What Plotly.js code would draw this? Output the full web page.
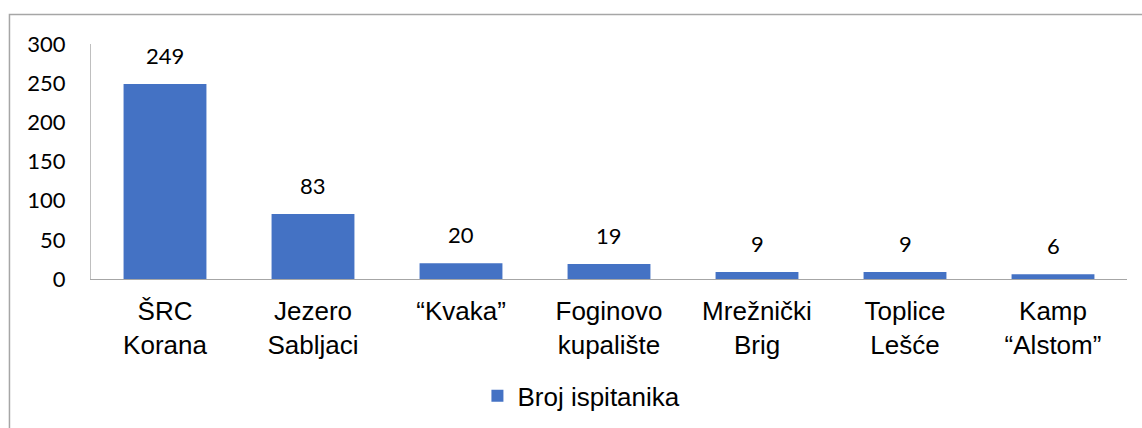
<!DOCTYPE html>
<html>
<head>
<meta charset="utf-8">
<script src="https://cdn.plot.ly/plotly-3.0.1.min.js"></script>
<style>html,body{margin:0;padding:0;background:#fff;}#chart{width:1142px;height:428px;}</style>
</head>
<body>
<div id="chart"></div>
<script>
const categories = ["ŠRC<br>Korana", "Jezero<br>Sabljaci", "“Kvaka”", "Foginovo<br>kupalište", "Mrežnički<br>Brig", "Toplice<br>Lešće", "Kamp<br>“Alstom”"];
const values = [249, 83, 20, 19, 9, 9, 6];
const seriesName = "Broj ispitanika";
const yTicks = [0, 50, 100, 150, 200, 250, 300];

const trace = {
  type: "bar",
  x: categories,
  y: values,
  name: seriesName,
  marker: {color: "#4472C4"},
  showlegend: true,
  hoverinfo: "none"
};

const annotations = categories.map((c, i) => ({
  x: c, y: values[i], xref: "x", yref: "y",
  text: String(values[i]), showarrow: false,
  yanchor: "bottom", yshift: 13,
  font: {family: "Lato, 'Open Sans', sans-serif", size: 22, color: "#000"}
}));

const layout = {
  width: 1142, height: 428,
  margin: {l: 91, r: 15, t: 44, b: 149, autoexpand: false},
  paper_bgcolor: "#fff", plot_bgcolor: "#fff",
  bargap: 0.44,
  xaxis: {
    type: "category", automargin: false,
    showline: true, linecolor: "#a6a6a6", linewidth: 1,
    ticks: "", showgrid: false, zeroline: false,
    tickfont: {family: "'Liberation Sans', Arial, sans-serif", size: 26, color: "#000"},
    ticklabelstandoff: 9
  },
  yaxis: {
    range: [0, 300], tickvals: yTicks, automargin: false,
    showline: true, linecolor: "#bfbfbf", linewidth: 1,
    ticks: "", showgrid: false, zeroline: false,
    tickfont: {family: "Lato, 'Open Sans', sans-serif", size: 22, color: "#000"},
    ticklabelstandoff: 20
  },
  legend: {
    orientation: "h", x: 0.373, xanchor: "left", y: -0.497, yanchor: "middle",
    font: {family: "'Liberation Sans', Arial, sans-serif", size: 26, color: "#000"}
  },
  annotations: annotations,
  shapes: [{
    type: "rect", xref: "paper", yref: "paper",
    x0: -0.0787, x1: 1.02, y0: -0.66, y1: 1.1255,
    line: {color: "#a6a6a6", width: 1.5}, fillcolor: "rgba(0,0,0,0)", layer: "below"
  }]
};

Plotly.newPlot("chart", [trace], layout, {displayModeBar: false, staticPlot: true});
</script>
</body>
</html>
